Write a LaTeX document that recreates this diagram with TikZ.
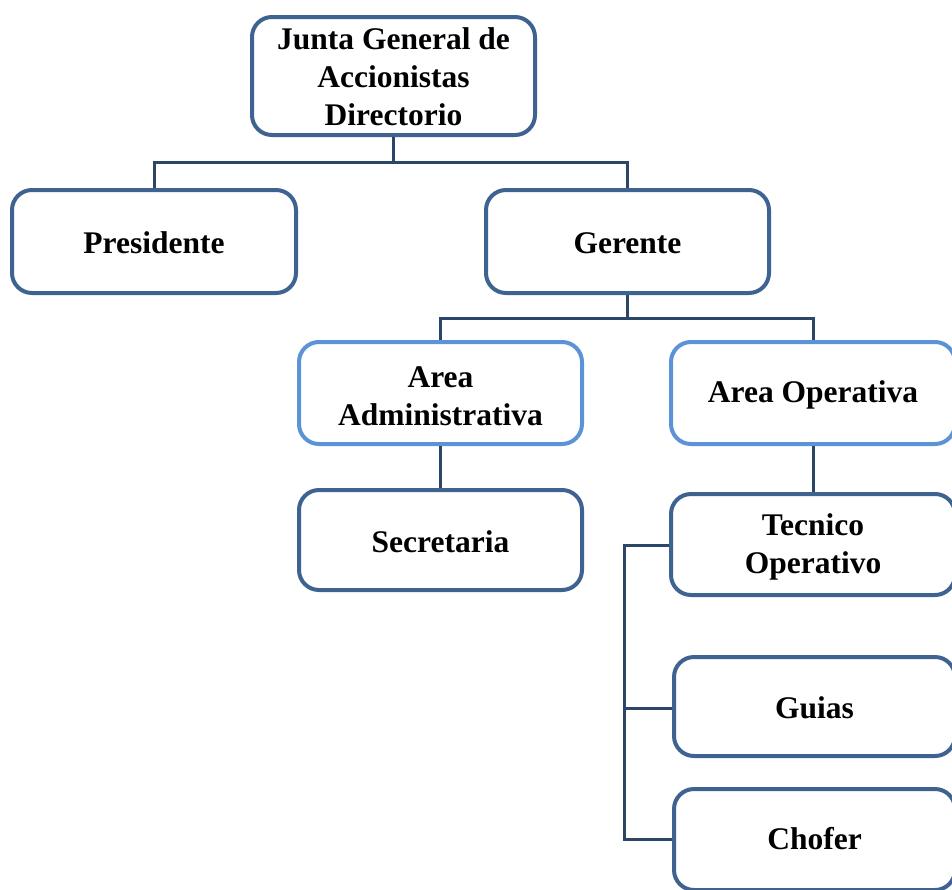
\documentclass[tikz,border=0pt]{standalone}
\usepackage{fontspec}
\setmainfont{Liberation Serif}
\begin{document}
\begin{tikzpicture}[x=1pt,y=-1pt,
  box/.style={draw=boxdark,line width=4pt,rounded corners=20pt,fill=white,inner sep=0pt},
  lbox/.style={box,draw=boxlight},
  txt/.style={align=center,font=\fontsize{31.5}{38}\selectfont\bfseries,inner sep=0pt},
  conn/.style={draw=linec,line width=3pt}]
\definecolor{boxdark}{HTML}{3F6390}
\definecolor{boxlight}{HTML}{5B93D6}
\definecolor{linec}{HTML}{2B4666}
\clip (0,0) rectangle (952,889);
\fill[white] (0,0) rectangle (952,889);
\node[box,minimum width=283pt,minimum height=118pt] (junta) at (393.5,76) {};
\node[txt] (juntat) at (393.5,77) {Junta General de\\Accionistas\\Directorio};
\node[box,minimum width=284pt,minimum height=103pt] (pres) at (154,241.5) {};
\node[txt] (prest) at (154,243) {Presidente};
\node[box,minimum width=283pt,minimum height=103pt] (ger) at (627.5,241.5) {};
\node[txt] (gert) at (627.5,243) {Gerente};
\node[lbox,minimum width=283pt,minimum height=102pt] (aadm) at (440.5,393) {};
\node[txt] (aadmt) at (440.5,396) {Area\\Administrativa};
\node[lbox,minimum width=284pt,minimum height=102pt] (aop) at (813,393) {};
\node[txt] (aopt) at (813,395) {Area Operativa};
\node[box,minimum width=283pt,minimum height=100pt] (sec) at (440.5,540) {};
\node[txt] (sect) at (440.5,542) {Secretaria};
\node[box,minimum width=284pt,minimum height=101pt] (tec) at (813,544.5) {};
\node[txt] (tect) at (813,547) {Tecnico\\Operativo};
\node[box,minimum width=281pt,minimum height=99pt] (gui) at (814.5,706.5) {};
\node[txt] (guit) at (814.5,708) {Guias};
\node[box,minimum width=281pt,minimum height=101pt] (cho) at (814.5,839.5) {};
\node[txt] (chot) at (814.5,839) {Chofer};
\coordinate (j1) at (junta.south |- 0,162);
\coordinate (g1) at (ger.south |- 0,318);
\coordinate (rt) at (624,545);
\coordinate (rg) at (624,708);
\coordinate (rc) at (624,839);
\draw[conn] (junta.south) -- (j1);
\draw[conn] (pres.north) |- (j1) -| (ger.north);
\draw[conn] (ger.south) -- (g1);
\draw[conn] (aadm.north) |- (g1) -| (aop.north);
\draw[conn] (aadm.south) -- (sec.north);
\draw[conn] (aop.south) -- (aop.south |- tec.north);
\draw[conn] (tec.west |- rt) -- (rt) -- (rc) -- (cho.west |- rc);
\draw[conn] (rg) -- (gui.west |- rg);
\end{tikzpicture}
\end{document}
